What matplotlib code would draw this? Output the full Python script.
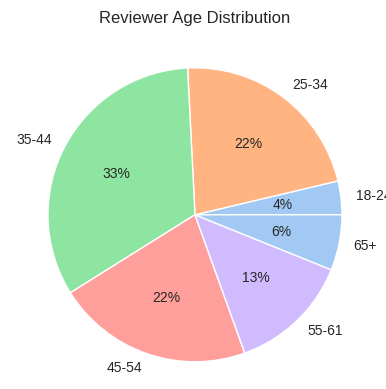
import matplotlib
matplotlib.use('Agg')
import matplotlib.pyplot as plt
import seaborn as sns

# age groups and their share of reviewers (%)
age_groups = ['18-24', '25-34', '35-44', '45-54', '55-61', '65+']
shares = [3.7, 22.1, 33.1, 21.6, 13.4, 6.1]

sns.set_theme(style='whitegrid')
plt.rcParams['font.family'] = ['Liberation Sans', 'DejaVu Sans']

pastel = sns.color_palette('pastel')
colors = [pastel[i % 5] for i in range(len(age_groups))]

fig = plt.figure(figsize=(3.86, 3.89), dpi=100)
ax = fig.add_axes([0.0291, -0.0245, 0.952, 0.9447])
ax.pie(shares, labels=age_groups, colors=colors, autopct='%1.0f%%',
       wedgeprops={'edgecolor': 'white', 'linewidth': 1},
       textprops={'fontsize': 10, 'color': '#262626'})
ax.set_title('Reviewer Age Distribution', fontsize=12, color='#262626')
ax.set_position([0.0291, -0.0245, 0.952, 0.9447])

fig.savefig('out.png', dpi=100)
